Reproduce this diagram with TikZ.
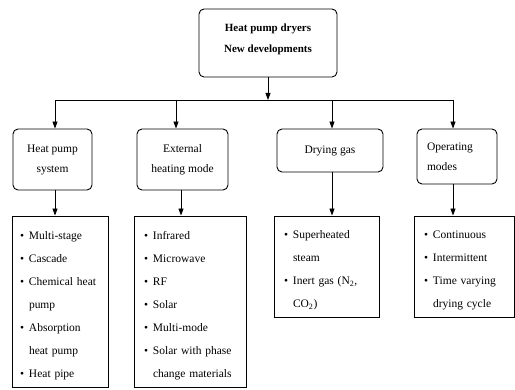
\documentclass[tikz,border=0pt]{standalone}
\usepackage{fontspec}
\setmainfont{Liberation Serif}
\usetikzlibrary{arrows.meta}
\newcommand\bul{\makebox[9pt][l]{\textbullet}}
\newcommand\cnt{\hspace*{9pt}}
\newcommand\fst{\rule{0pt}{16pt}}
\begin{document}
\begin{tikzpicture}[x=1pt,y=-1pt,line width=0.9pt,
  arr/.style={-{Triangle[length=7pt,width=5pt]}},
  hdr/.style={draw,rounded corners=5pt,align=center,font=\fontsize{11.5}{20}\selectfont,inner sep=0pt},
  lst/.style={draw,align=left,font=\fontsize{11.5}{23}\selectfont,inner ysep=0pt,inner xsep=10pt,anchor=center}]
\useasboundingbox (0,0) rectangle (515,390);
\node[hdr,minimum width=138pt,minimum height=68pt,font=\bfseries\fontsize{11}{21.5}\selectfont] (top) at (268,43) {Heat pump dryers\\New developments\rule[-10pt]{0pt}{10pt}};
\node[hdr,minimum width=79pt,minimum height=61pt] (h1) at (52.5,159.5) {Heat pump\\system};
\node[hdr,minimum width=91pt,minimum height=61pt] (h2) at (182.5,159.5) {External\\heating mode};
\node[hdr,minimum width=106pt,minimum height=43pt] (h3) at (330,150.5) {Drying gas};
\node[hdr,minimum width=80pt,minimum height=55pt,align=left,text width=60pt] (h4) at (457,156.5) {Operating\\modes};
\node[lst,minimum width=96pt,minimum height=171pt,inner xsep=8pt,text width=80pt] (l1) at (60,301.5)
  {\fst\bul Multi-stage\\\bul Cascade\\\bul Chemical heat\\\cnt pump\\\bul Absorption\\\cnt heat pump\\\bul Heat pipe};
\node[lst,minimum width=112pt,minimum height=171pt,text width=92pt] (l2) at (190,301.5)
  {\fst\bul Infrared\\\bul Microwave\\\bul RF\\\bul Solar\\\bul Multi-mode\\\bul Solar with phase\\\cnt change materials};
\node[lst,minimum width=105pt,minimum height=101pt,text width=85pt] (l3) at (326.5,266.5)
  {\fst\bul Superheated\\\cnt steam\\\bul Inert gas (N\textsubscript{2},\\\cnt CO\textsubscript{2})};
\node[lst,minimum width=100pt,minimum height=101pt,text width=80pt] (l4) at (464,266.5)
  {\fst\bul Continuous\\\bul Intermittent\\\bul Time varying\\\cnt drying cycle};
\coordinate (c1) at (55,100);
\coordinate (c2) at (176,100);
\coordinate (c3) at (332,100);
\coordinate (c4) at (453,100);
\coordinate (d2) at (181,100);
\draw[arr] (top.south) -- (top.south |- c1);
\draw (c1) -- (c4);
\draw[arr] (c1) -- (h1.north -| c1);
\draw[arr] (c2) -- (h2.north -| c2);
\draw[arr] (c3) -- (h3.north -| c3);
\draw[arr] (c4) -- (h4.north -| c4);
\draw[arr] (h1.south -| c1) -- (l1.north -| c1);
\draw[arr] (h2.south -| d2) -- (l2.north -| d2);
\draw[arr] (h3.south -| c3) -- (l3.north -| c3);
\draw[arr] (h4.south -| c4) -- (l4.north -| c4);
\end{tikzpicture}
\end{document}
